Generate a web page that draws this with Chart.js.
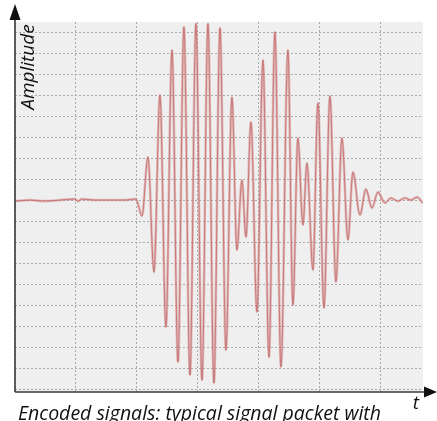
<!DOCTYPE html>
<html>
<head>
<meta charset="utf-8">
<script src="https://cdn.jsdelivr.net/npm/chart.js@4.4.1/dist/chart.umd.min.js"></script>
<style>
  html, body { margin: 0; padding: 0; background: #ffffff; }
  #wrap { width: 437px; height: 421px; position: relative; }
</style>
</head>
<body>
<div id="wrap"><canvas id="c" width="437" height="421"></canvas></div>
<script>
// Time (in grid units) of each read-off sample point
const timeValues = [
  0, 0.246, 0.492, 0.738, 0.984, 1.033, 1.098, 1.311, 1.557, 1.803, 1.984,
  2.082, 2.180, 2.279, 2.377, 2.475, 2.574, 2.672, 2.770, 2.869, 2.967,
  3.066, 3.164, 3.262, 3.361, 3.459, 3.557, 3.639, 3.721, 3.787, 3.869,
  3.967, 4.066, 4.164, 4.262, 4.361, 4.475, 4.557, 4.639, 4.721, 4.787,
  4.885, 4.967, 5.066, 5.164, 5.262, 5.361, 5.459, 5.541, 5.656, 5.754,
  5.852, 5.951, 6.066, 6.164, 6.279, 6.393, 6.492, 6.590, 6.689
];
// Amplitude (in grid units) at each sample point
const amplitudeValues = [
  -0.05, 0, -0.05, 0, 0.05, -0.05, 0.05, 0, 0, 0, 0.05,
  -0.76, 2.05, -3.43, 5.0, -6.05, 7.14, -7.71, 8.24, -8.33, 8.4,
  -8.57, 8.4, -8.71, 8.19, -7.14, 4.90, -2.38, 0.95, -1.76, 3.71,
  -5.33, 6.67, -7.48, 8.0, -7.95, 7.14, -5.0, 2.95, -1.19, 1.76,
  -3.33, 4.62, -5.14, 4.95, -3.90, 2.95, -1.90, 1.33, -0.71, 0.52,
  -0.38, 0.38, -0.14, 0.1, -0.05, 0.1, 0, 0.14, -0.14
];
// Axis ranges and labels
const timeRange = [0, 6.69];
const amplitudeRange = [-9.14, 8.48];
const yAxisTitle = 'Amplitude';
const xAxisTitle = 't';
const captionText = 'Encoded signals: typical signal packet with';

const points = timeValues.map((t, i) => ({ x: t, y: amplitudeValues[i] }));

const FONT = '"Open Sans", "DejaVu Sans", sans-serif';

const decorPlugin = {
  id: 'decor',
  beforeDraw(chart) {
    const { ctx, chartArea: a } = chart;
    ctx.save();
    ctx.fillStyle = '#efefef';
    ctx.fillRect(a.left, a.top, a.right - a.left, a.bottom - a.top);
    ctx.restore();
  },
  afterDraw(chart) {
    const { ctx, chartArea: a } = chart;
    ctx.save();
    ctx.strokeStyle = '#3a3a3a';
    ctx.fillStyle = '#111';
    ctx.lineWidth = 1.6;
    // y axis
    ctx.beginPath();
    ctx.moveTo(a.left, a.bottom);
    ctx.lineTo(a.left, 16);
    ctx.stroke();
    ctx.beginPath();
    ctx.moveTo(a.left, 4);
    ctx.lineTo(a.left - 5.5, 20);
    ctx.lineTo(a.left + 5.5, 20);
    ctx.closePath();
    ctx.fill();
    // x axis
    ctx.beginPath();
    ctx.moveTo(a.left, a.bottom);
    ctx.lineTo(428, a.bottom);
    ctx.stroke();
    ctx.beginPath();
    ctx.moveTo(437, a.bottom);
    ctx.lineTo(424, a.bottom - 5.5);
    ctx.lineTo(424, a.bottom + 5.5);
    ctx.closePath();
    ctx.fill();
    // axis titles
    ctx.fillStyle = '#111';
    ctx.font = 'italic 19px ' + FONT;
    ctx.textAlign = 'center';
    ctx.textBaseline = 'middle';
    ctx.save();
    ctx.translate(29, 67);
    ctx.rotate(-Math.PI / 2);
    ctx.fillText(yAxisTitle, 0, 0);
    ctx.restore();
    ctx.fillText(xAxisTitle, 416, 404);
    // caption
    ctx.font = 'italic 19.5px ' + FONT;
    ctx.textAlign = 'left';
    ctx.textBaseline = 'alphabetic';
    ctx.fillText(captionText, 18, 420);
    ctx.restore();
  }
};

new Chart(document.getElementById('c'), {
  type: 'line',
  data: {
    datasets: [
      {
        data: points,
        borderColor: 'rgba(214,140,140,0.55)',
        borderWidth: 2.6,
        pointRadius: 0,
        cubicInterpolationMode: 'monotone',
        fill: false
      },
      {
        data: points,
        borderColor: 'rgba(168,55,55,0.85)',
        borderWidth: 0.9,
        pointRadius: 0,
        cubicInterpolationMode: 'monotone',
        fill: false
      }
    ]
  },
  options: {
    responsive: false,
    animation: false,
    devicePixelRatio: 1,
    layout: { padding: { left: 15, right: 14, top: 22, bottom: 29 } },
    plugins: { legend: { display: false }, tooltip: { enabled: false } },
    scales: {
      x: {
        type: 'linear',
        min: timeRange[0],
        max: timeRange[1],
        ticks: { display: false, stepSize: 1, includeBounds: false },
        grid: { color: '#ababab', lineWidth: 1, drawTicks: false },
        border: { display: false, dash: [2, 2] }
      },
      y: {
        type: 'linear',
        min: amplitudeRange[0],
        max: amplitudeRange[1],
        ticks: { display: false, stepSize: 1, includeBounds: false },
        grid: { color: '#ababab', lineWidth: 1, drawTicks: false },
        border: { display: false, dash: [2, 2] }
      }
    }
  },
  plugins: [decorPlugin]
});
</script>
</body>
</html>
